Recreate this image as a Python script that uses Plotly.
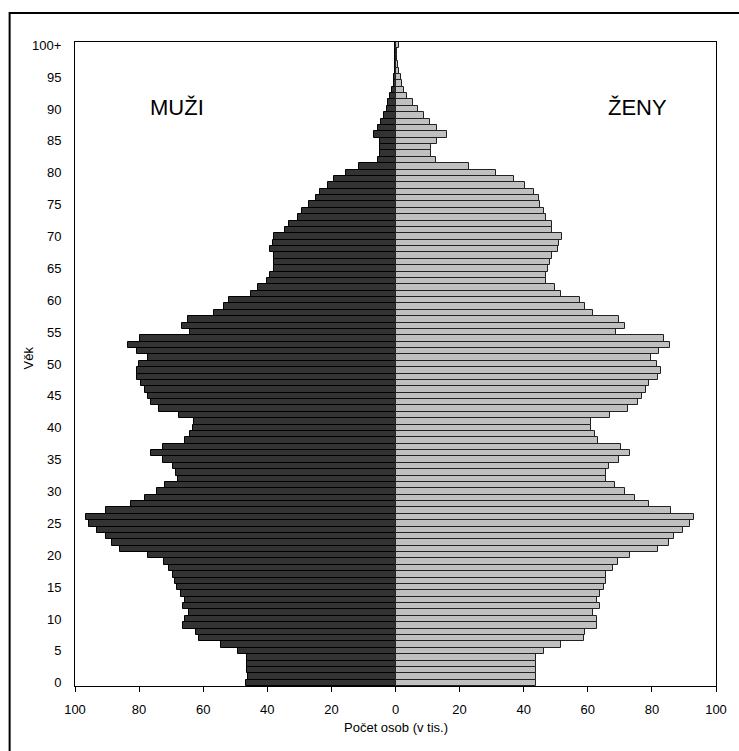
import plotly.graph_objects as go

ages = list(range(0, 101))

male = [46.7, 45.9, 46.4, 46.4, 46.2, 49.0, 54.6, 61.4, 62.4, 66.2,
        65.6, 64.4, 66.2, 65.6, 66.9, 68.3, 68.7, 69.3, 70.6, 72.2,
        77.3, 86.1, 88.5, 90.2, 93.0, 95.6, 96.5, 90.2, 82.5, 78.2,
        74.5, 71.8, 68.0, 68.5, 69.3, 72.6, 76.3, 72.6, 65.8, 64.1,
        63.3, 62.9, 67.6, 73.7, 76.3, 77.3, 78.2, 79.3, 80.6, 80.6,
        80.1, 77.3, 80.6, 83.4, 79.7, 64.1, 66.6, 64.7, 56.7, 53.5,
        52.1, 45.1, 42.9, 40.1, 39.1, 38.0, 38.0, 38.0, 39.2, 38.1,
        37.8, 34.4, 33.1, 30.3, 29.3, 27.0, 24.7, 23.7, 21.0, 19.1,
        15.5, 11.4, 5.6, 4.9, 4.9, 4.9, 6.6, 5.4, 4.4, 3.5,
        2.8, 2.3, 1.8, 1.2, 0.5, 0.4, 0.3, 0.2, 0.1, 0.1,
        0.1]

female = [43.7, 43.7, 43.7, 43.7, 43.7, 46.4, 51.6, 58.7, 59.2, 62.8,
          62.8, 61.5, 63.7, 62.8, 63.7, 65.2, 65.6, 65.7, 68.0, 69.4,
          73.2, 82.0, 85.3, 87.0, 89.7, 92.0, 93.1, 86.1, 79.2, 74.6,
          71.7, 68.4, 65.7, 65.7, 66.5, 69.8, 73.2, 70.3, 63.2, 62.4,
          60.9, 60.9, 66.9, 72.5, 75.8, 76.9, 78.1, 79.2, 82.0, 82.9,
          81.5, 79.6, 82.3, 85.6, 83.7, 68.8, 71.6, 69.7, 61.5, 59.1,
          57.6, 51.6, 49.7, 47.0, 47.0, 47.5, 48.3, 48.8, 50.7, 51.1,
          52.1, 48.7, 48.7, 47.0, 46.4, 45.2, 44.8, 43.2, 40.5, 36.9,
          31.2, 22.9, 12.6, 11.2, 11.2, 13.1, 16.0, 13.1, 10.8, 8.9,
          7.0, 5.6, 3.7, 2.7, 1.9, 1.7, 1.0, 0.8, 0.6, 0.4,
          1.0]

y_tickvals = list(range(0, 101, 5))
y_ticktext = [str(v) for v in range(0, 100, 5)] + ["100+"]
x_tickvals = list(range(-100, 101, 20))
x_ticktext = [str(abs(v)) for v in x_tickvals]

FONT = "Liberation Sans, Arial, sans-serif"

fig = go.Figure()
fig.add_trace(go.Bar(
    y=ages, x=[-v for v in male], orientation="h", name="Muži",
    marker=dict(color="#333333", line=dict(color="#000000", width=1)),
))
fig.add_trace(go.Bar(
    y=ages, x=female, orientation="h", name="Ženy",
    marker=dict(color="#c0c0c0", line=dict(color="#222222", width=1)),
))

fig.update_layout(
    width=739, height=751,
    barmode="overlay", bargap=0,
    showlegend=False,
    plot_bgcolor="white", paper_bgcolor="white",
    margin=dict(l=75, r=20, t=42, b=65),
    font=dict(family=FONT, size=13, color="black"),
    xaxis=dict(
        range=[-100, 100], tickvals=x_tickvals, ticktext=x_ticktext,
        ticks="outside", ticklen=5, tickcolor="black", tickwidth=1,
        showline=True, linecolor="black", linewidth=1, mirror=True,
        showgrid=False, zeroline=False, ticklabelstandoff=6,
        tickfont=dict(size=13),
    ),
    yaxis=dict(
        range=[-0.5, 100.5], tickvals=y_tickvals, ticktext=y_ticktext,
        ticks="", showline=True, linecolor="black", linewidth=1, mirror=True,
        showgrid=False, zeroline=False, ticklabelstandoff=10,
        tickfont=dict(size=13),
    ),
    annotations=[
        dict(text="MUŽI", x=-68.3, y=90.2, xref="x", yref="y", showarrow=False,
             font=dict(size=22, family=FONT)),
        dict(text="ŽENY", x=75.5, y=90.2, xref="x", yref="y", showarrow=False,
             font=dict(size=22, family=FONT)),
        dict(text="Počet osob (v tis.)", x=0.5, y=-0.064, xref="paper", yref="paper",
             showarrow=False, xanchor="center", yanchor="middle",
             font=dict(size=13, family=FONT)),
        dict(text="Věk", x=-0.072, y=0.51, xref="paper", yref="paper",
             showarrow=False, xanchor="center", yanchor="middle", textangle=-90,
             font=dict(size=13, family=FONT)),
    ],
    shapes=[
        dict(type="rect", xref="paper", yref="paper",
             x0=-0.102, x1=1.045, y0=-0.115, y1=1.045,
             line=dict(color="black", width=2), fillcolor="rgba(0,0,0,0)",
             layer="above"),
    ],
)

fig.write_html("out.html", config={"displayModeBar": False},
               post_script="document.body.style.margin='0';document.body.style.overflow='hidden';")
